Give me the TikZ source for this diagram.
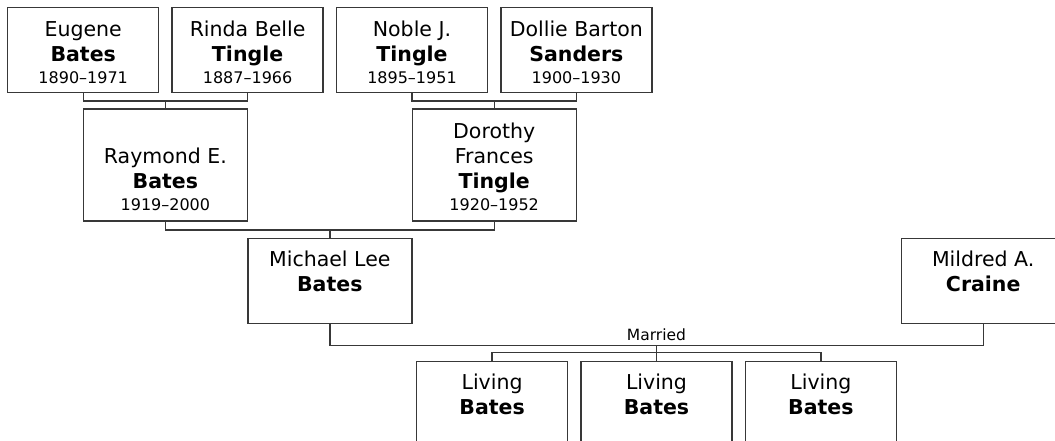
\documentclass[tikz,border=0pt]{standalone}
\usepackage{fontspec}
\setmainfont{DejaVu Sans}
\usepackage{tikz}
\usetikzlibrary{positioning,calc}
\newcommand{\sur}[1]{\textbf{#1}}
\newcommand{\yrs}[1]{{\fontsize{16}{19}\selectfont #1}}
\newcommand{\tstrut}{\rule{0pt}{19pt}}
\tikzset{
  box/.style={draw=black!78, line width=1.4pt, rectangle, align=center, font=\fontsize{20.5}{25}\selectfont, minimum width=151pt, minimum height=85pt, inner sep=0pt, fill=white},
  wbox/.style={box, minimum width=164pt},
  tbox/.style={wbox, minimum height=112pt},
  lnk/.style={draw=black!78, line width=1.4pt},
  lbl/.style={font=\fontsize{15.5}{18}\selectfont, inner sep=4pt},
}
\begin{document}
\begin{tikzpicture}[x=1pt, y=1pt, node distance=12pt]
\useasboundingbox (0,0) rectangle (1055,-440);
% grandparents
\node[box, anchor=north west] (eug) at (7,-7) {\tstrut Eugene\\\sur{Bates}\\[-3pt]\yrs{1890–1971}};
\node[box, right=of eug] (rin) {\tstrut Rinda Belle\\\sur{Tingle}\\[-3pt]\yrs{1887–1966}};
\node[box, right=of rin] (nob) {\tstrut Noble J.\\\sur{Tingle}\\[-3pt]\yrs{1895–1951}};
\node[box, right=of nob] (dol) {\tstrut Dollie Barton\\\sur{Sanders}\\[-3pt]\yrs{1900–1930}};
% parents
\node[tbox, anchor=north] (ray) at ($(eug.south)!0.5!(rin.south)+(0,-15)$) {\tstrut\\Raymond E.\\\sur{Bates}\\[-3pt]\yrs{1919–2000}};
\node[tbox, anchor=north] (dor) at ($(nob.south)!0.5!(dol.south)+(0,-15)$) {\tstrut Dorothy\\Frances\\\sur{Tingle}\\[-3pt]\yrs{1920–1952}};
% couple
\node[wbox, anchor=north] (mic) at ($(ray.south)!0.5!(dor.south)+(0,-16)$) {\tstrut Michael Lee\\\sur{Bates}\\[-3pt]\yrs{\phantom{0}}};
\node[wbox, right=488pt of mic] (mil) {\tstrut Mildred A.\\\sur{Craine}\\[-3pt]\yrs{\phantom{0}}};
% children
\node[box, anchor=north] (ch2) at ($(mic.south)!0.5!(mil.south)+(0,-36.5)$) {\tstrut Living\\\sur{Bates}\\[-3pt]\yrs{\phantom{0}}};
\node[box, left=of ch2] (ch1) {\tstrut Living\\\sur{Bates}\\[-3pt]\yrs{\phantom{0}}};
\node[box, right=of ch2] (ch3) {\tstrut Living\\\sur{Bates}\\[-3pt]\yrs{\phantom{0}}};
% links
\draw[lnk] (eug.south) -- ++(0,-7.5) -| (rin.south);
\draw[lnk] (ray.north) -- ++(0,7.5);
\draw[lnk] (nob.south) -- ++(0,-7.5) -| (dol.south);
\draw[lnk] (dor.north) -- ++(0,7.5);
\draw[lnk] (ray.south) -- ++(0,-8) -| (dor.south);
\draw[lnk] (mic.north) -- ++(0,8);
\draw[lnk] (mic.south) -- ++(0,-21) -| node[lbl, pos=0.25, above] (mar) {Married} (mil.south);
\draw[lnk] (ch2.north) -- ++(0,15.5);
\draw[lnk] (ch1.north) -- ++(0,8) -| (ch3.north);
\end{tikzpicture}
\end{document}
